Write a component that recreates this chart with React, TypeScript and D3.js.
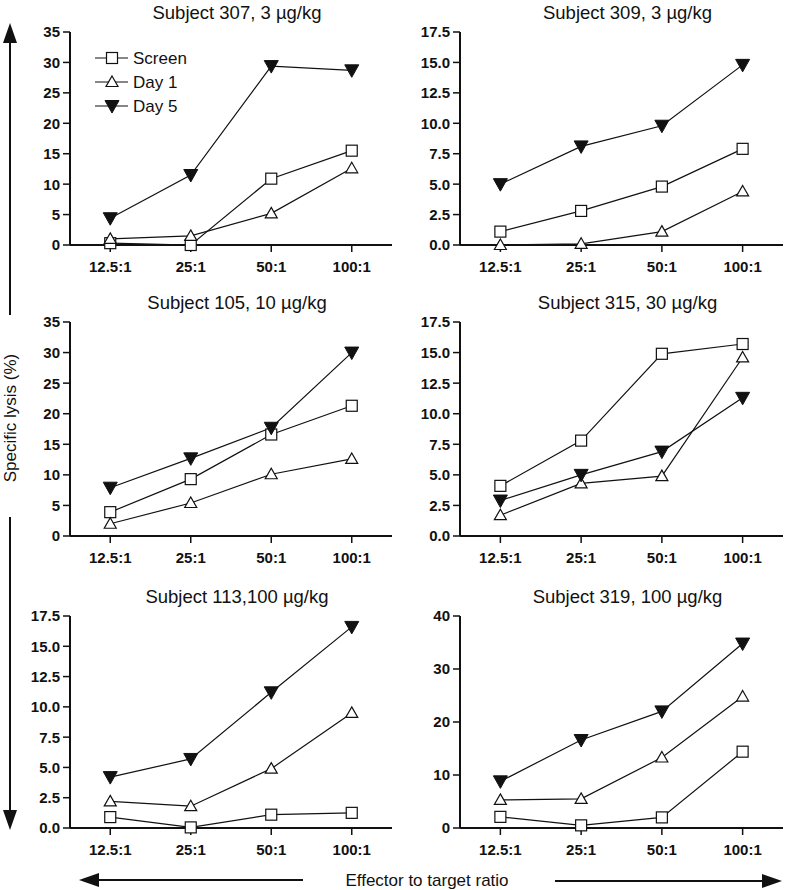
import React from 'react';
import * as d3 from 'd3';

const categories = ['12.5:1', '25:1', '50:1', '100:1'];
const seriesNames = ['Screen', 'Day 1', 'Day 5'];

const ticks35 = [0, 5, 10, 15, 20, 25, 30, 35];
const ticks175 = [0, 2.5, 5, 7.5, 10, 12.5, 15, 17.5];
const ticks40 = [0, 10, 20, 30, 40];

const s307Screen = [0.3, 0, 10.9, 15.5];
const s307Day1 = [1.0, 1.5, 5.2, 12.6];
const s307Day5 = [4.4, 11.5, 29.4, 28.7];

const s309Screen = [1.1, 2.8, 4.8, 7.9];
const s309Day1 = [0, 0.1, 1.1, 4.4];
const s309Day5 = [5.0, 8.1, 9.8, 14.8];

const s105Screen = [3.9, 9.3, 16.6, 21.3];
const s105Day1 = [2.0, 5.4, 10.1, 12.6];
const s105Day5 = [7.9, 12.7, 17.7, 30.0];

const s315Screen = [4.1, 7.8, 14.9, 15.7];
const s315Day1 = [1.7, 4.3, 4.9, 14.6];
const s315Day5 = [2.9, 5.0, 6.9, 11.3];

const s113Screen = [0.9, 0.05, 1.1, 1.25];
const s113Day1 = [2.2, 1.8, 4.9, 9.5];
const s113Day5 = [4.2, 5.7, 11.2, 16.6];

const s319Screen = [2.1, 0.5, 2.0, 14.4];
const s319Day1 = [5.3, 5.5, 13.3, 24.8];
const s319Day5 = [8.8, 16.6, 22.0, 34.8];

const FONT = 'Liberation Sans, Arial, Helvetica, sans-serif';

const panels = [
  { title: 'Subject 307, 3 \u00b5g/kg', ticks: ticks35, dec: 0, series: [s307Screen, s307Day1, s307Day5], col: 0, row: 0, legend: true },
  { title: 'Subject 309, 3 \u00b5g/kg', ticks: ticks175, dec: 1, series: [s309Screen, s309Day1, s309Day5], col: 1, row: 0 },
  { title: 'Subject 105, 10 \u00b5g/kg', ticks: ticks35, dec: 0, series: [s105Screen, s105Day1, s105Day5], col: 0, row: 1 },
  { title: 'Subject 315, 30 \u00b5g/kg', ticks: ticks175, dec: 1, series: [s315Screen, s315Day1, s315Day5], col: 1, row: 1 },
  { title: 'Subject 113,100 \u00b5g/kg', ticks: ticks175, dec: 1, series: [s113Screen, s113Day1, s113Day5], col: 0, row: 2 },
  { title: 'Subject 319, 100 \u00b5g/kg', ticks: ticks40, dec: 0, series: [s319Screen, s319Day1, s319Day5], col: 1, row: 2 },
];

const cols = [[70, 392], [460, 783]];
const rows = [[32, 245], [322, 536], [616, 828]];

function Marker({ kind, x, y }: { kind: number; x: number; y: number }) {
  if (kind === 0) {
    return <rect x={x - 5.5} y={y - 5.5} width={11} height={11} fill="#fff" stroke="#111" strokeWidth={1.2} />;
  }
  if (kind === 1) {
    return <path d={`M${x},${y - 6}L${x + 6},${y + 4.5}L${x - 6},${y + 4.5}Z`} fill="#fff" stroke="#111" strokeWidth={1.2} />;
  }
  return <path d={`M${x - 7},${y - 5.5}L${x + 7},${y - 5.5}L${x},${y + 7}Z`} fill="#111" stroke="#111" strokeWidth={1} />;
}

function Panel({ p }: { p: any }) {
  const [x0, x1] = cols[p.col];
  const [yTop, yBot] = rows[p.row];
  const x = d3.scalePoint<string>().domain(categories).range([x0, x1]).padding(0.5);
  const y = d3.scaleLinear().domain([0, p.ticks[p.ticks.length - 1]]).range([yBot, yTop]);
  const line = d3.line<number>().x((_, i) => x(categories[i]) as number).y(d => y(d));
  return (
    <g>
      <text x={(x0 + x1) / 2 + 6} y={yTop - 13} textAnchor="middle" fontSize={18.5} fontFamily={FONT} fill="#111">{p.title}</text>
      <line x1={x0} x2={x0} y1={yTop} y2={yBot} stroke="#111" strokeWidth={2} />
      <line x1={x0} x2={x1} y1={yBot} y2={yBot} stroke="#111" strokeWidth={2} />
      {p.ticks.map((t: number) => (
        <g key={t}>
          <line x1={x0 - 7} x2={x0} y1={y(t)} y2={y(t)} stroke="#111" strokeWidth={1.5} />
          <text x={x0 - 10} y={y(t)} dy="0.36em" textAnchor="end" fontSize={15} fontWeight="bold" fontFamily={FONT} fill="#111">
            {t.toFixed(p.dec)}
          </text>
        </g>
      ))}
      {categories.map(c => (
        <g key={c}>
          <line x1={x(c)} x2={x(c)} y1={yBot} y2={yBot + 7} stroke="#111" strokeWidth={1.5} />
          <text x={x(c)} y={yBot + 27} textAnchor="middle" fontSize={15} fontWeight="bold" fontFamily={FONT} fill="#111">{c}</text>
        </g>
      ))}
      {p.series.map((s: number[], k: number) => (
        <path key={k} d={line(s) as string} fill="none" stroke="#111" strokeWidth={1.2} />
      ))}
      {p.series.map((s: number[], k: number) =>
        s.map((v, i) => <Marker key={k + '-' + i} kind={k} x={x(categories[i]) as number} y={y(v)} />)
      )}
      {p.legend && seriesNames.map((n, k) => (
        <g key={n}>
          <line x1={95} x2={128} y1={58 + k * 24} y2={58 + k * 24} stroke="#111" strokeWidth={1.2} />
          <Marker kind={k} x={112} y={58 + k * 24} />
          <text x={133} y={58 + k * 24} dy="0.36em" fontSize={17} fontFamily={FONT} fill="#111">{n}</text>
        </g>
      ))}
    </g>
  );
}

export default function App() {
  return (
    <svg width={786} height={890} style={{ position: 'absolute', left: 0, top: 0, background: '#fff' }}>
      <rect width={786} height={890} fill="#fff" />
      {panels.map((p, i) => <Panel key={i} p={p} />)}
      {/* vertical arrow with label */}
      <line x1={10} x2={10} y1={40} y2={315} stroke="#111" strokeWidth={2} />
      <path d="M10,23L17,43L3,43Z" fill="#111" />
      <text transform="translate(16,418) rotate(-90)" textAnchor="middle" fontSize={17} fontFamily={FONT} fill="#111">Specific lysis (%)</text>
      <line x1={10} x2={10} y1={517} y2={812} stroke="#111" strokeWidth={2} />
      <path d="M10,830L17,810L3,810Z" fill="#111" />
      {/* horizontal arrows with label */}
      <line x1={96} x2={303} y1={880} y2={880} stroke="#111" strokeWidth={2} />
      <path d="M79,880L99,873L99,887Z" fill="#111" />
      <text x={427} y={886} textAnchor="middle" fontSize={17} fontFamily={FONT} fill="#111">Effector to target ratio</text>
      <line x1={555} x2={765} y1={881} y2={881} stroke="#111" strokeWidth={2} />
      <path d="M782,881L762,874L762,888Z" fill="#111" />
    </svg>
  );
}
